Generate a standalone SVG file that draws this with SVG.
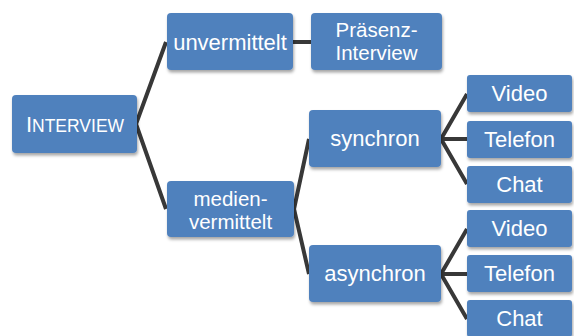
<svg xmlns="http://www.w3.org/2000/svg" width="574" height="336" viewBox="0 0 574 336">
<defs>
<filter id="sh" x="-10%" y="-20%" width="125%" height="150%">
<feDropShadow dx="1" dy="2.5" stdDeviation="1.6" flood-color="#000" flood-opacity="0.35"/>
</filter>
<style>
.b{fill:#4f81bd;filter:url(#sh)}
.t{fill:#fff;font-family:"Liberation Sans",Arial,sans-serif;font-size:22px;text-anchor:middle}
.t2{font-size:20.5px}
.c{stroke:#383838;stroke-width:4;fill:none;stroke-linejoin:miter}
</style>
</defs>
<rect width="574" height="336" fill="#fff"/>
<g id="connectors">
<polyline class="c" points="166,42 136,124 166,209"/>
<line class="c" x1="293" y1="42" x2="312" y2="42"/>
<polyline class="c" points="309,139 294,209 309,274"/>
<polyline class="c" points="467,94 441,139 467,184"/>
<line class="c" x1="441" y1="139" x2="468" y2="139"/>
<polyline class="c" points="467,229 441,274 467,319"/>
<line class="c" x1="441" y1="274" x2="468" y2="274"/>
</g>
<g id="interview">
<rect class="b" x="12" y="95" width="125" height="58" rx="4"/>
<text class="t" x="75" y="132"><tspan>I</tspan><tspan font-size="17.5">NTERVIEW</tspan></text>
</g>
<g id="unvermittelt">
<rect class="b" x="167" y="13" width="126" height="57" rx="4"/>
<text class="t" x="230" y="50">unvermittelt</text>
</g>
<g id="praesenz">
<rect class="b" x="311" y="13" width="131" height="57" rx="4"/>
<text class="t t2" x="376.5" y="37">Präsenz-</text>
<text class="t t2" x="376.5" y="60">Interview</text>
</g>
<g id="medienvermittelt">
<rect class="b" x="167" y="181" width="127" height="56" rx="4"/>
<text class="t t2" x="230.5" y="206">medien-</text>
<text class="t t2" x="230.5" y="229">vermittelt</text>
</g>
<g id="synchron">
<rect class="b" x="309" y="110" width="132" height="57" rx="4"/>
<text class="t" x="375" y="146">synchron</text>
</g>
<g id="asynchron">
<rect class="b" x="309" y="245" width="132" height="57" rx="4"/>
<text class="t" x="375" y="281">asynchron</text>
</g>
<g id="video1">
<rect class="b" x="467" y="75" width="105" height="37" rx="3"/>
<text class="t" x="519.5" y="101">Video</text>
</g>
<g id="telefon1">
<rect class="b" x="467" y="121" width="105" height="37" rx="3"/>
<text class="t" x="519.5" y="147">Telefon</text>
</g>
<g id="chat1">
<rect class="b" x="467" y="166" width="105" height="37" rx="3"/>
<text class="t" x="519.5" y="192">Chat</text>
</g>
<g id="video2">
<rect class="b" x="467" y="210" width="105" height="37" rx="3"/>
<text class="t" x="519.5" y="236">Video</text>
</g>
<g id="telefon2">
<rect class="b" x="467" y="255" width="105" height="37" rx="3"/>
<text class="t" x="519.5" y="281">Telefon</text>
</g>
<g id="chat2">
<rect class="b" x="467" y="300" width="105" height="37" rx="3"/>
<text class="t" x="519.5" y="326">Chat</text>
</g>
</svg>
